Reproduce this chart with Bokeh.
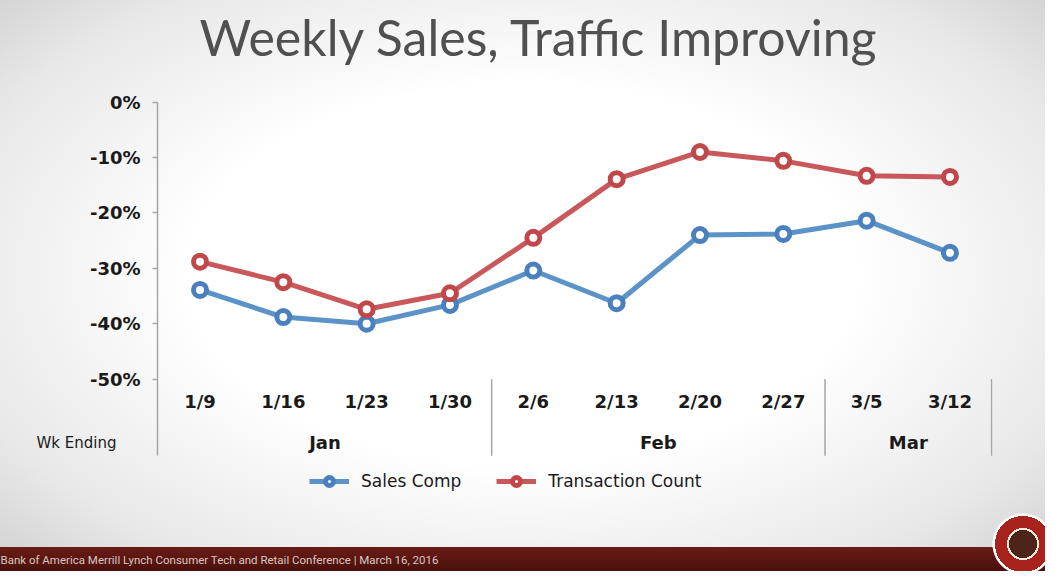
from itertools import accumulate

from bokeh.core.properties import value
from bokeh.embed import file_html
from bokeh.models import (ColumnDataSource, FactorRange, FixedTicker, Label,
                          Legend, LegendItem, LinearAxis, PrintfTickFormatter, Title)
from bokeh.plotting import figure
from bokeh.resources import INLINE

# data
months = ["Jan", "Jan", "Jan", "Jan", "Feb", "Feb", "Feb", "Feb", "Mar", "Mar"]
weeks = ["1/9", "1/16", "1/23", "1/30", "2/6", "2/13", "2/20", "2/27", "3/5", "3/12"]
sales_comp = [-33.9, -38.8, -40.0, -36.6, -30.4, -36.3, -24.0, -23.8, -21.4, -27.2]
transaction_count = [-28.8, -32.5, -37.4, -34.5, -24.5, -13.9, -9.0, -10.6, -13.3, -13.5]
y_ticks = [-50, -40, -30, -20, -10, 0]
month_names = ["Jan", "Feb", "Mar"]

BLUE = "#5b93c9"
BLUE_DARK = "#4a80be"
RED = "#c9585a"
RED_DARK = "#c0474a"
INK = "#1a1a1a"
FONT = "DejaVu Sans"

factors = list(zip(months, weeks))
source = ColumnDataSource(data=dict(x=factors, sales=sales_comp, trans=transaction_count))

axis_bottom = -63.85   # where the axis line and the month dividers stop
week_row, month_row = -54.0, -61.5

# the frame runs from the top of the page down to the footer band,
# so the title and legend can sit inside it
p = figure(width=1045, height=571,
           x_range=FactorRange(*factors, group_padding=0, range_padding=0.01,
                               range_padding_units="absolute"),
           y_range=(-80.04, 18.35), x_axis_location=None, title_location=None,
           output_backend="svg", toolbar_location=None,
           min_border_left=157, min_border_right=53,
           min_border_top=0, min_border_bottom=0)

p.xgrid.visible = False
p.ygrid.visible = False
p.outline_line_color = None
p.background_fill_alpha = 0
p.border_fill_alpha = 0
p.styles = {
    "background": (
        "radial-gradient(circle at 1023px 544px, #4d2419 0, #4d2419 14px, #f3e8da 14px, "
        "#f3e8da 16px, #a8231d 16px, #a8231d 28px, #ffffff 28px, #ffffff 30px, "
        "rgba(0,0,0,0) 31px), "
        "linear-gradient(to bottom, rgba(0,0,0,0) 547px, #6a1c15 547px, #4a100c 571px), "
        "radial-gradient(ellipse at 50% 48%, #ffffff 45%, #e8e8e8 80%, #d0d0d0 100%)"
    )
}

# footer sits in the band under the frame
p.add_layout(Title(text="Bank of America Merrill Lynch Consumer Tech and Retail Conference   |   March 16, 2016",
                   align="left", offset=-157, standoff=10, text_font="Roboto",
                   text_font_size="11.5px", text_font_style="normal",
                   text_color="#d8c6c2"), "below")

# y axis
p.yaxis.bounds = (axis_bottom, 0)
p.yaxis.ticker = FixedTicker(ticks=y_ticks)
p.yaxis.formatter = PrintfTickFormatter(format="%d%%")
p.yaxis.axis_line_color = "#a6a6a6"
p.yaxis.axis_line_width = 1.5
p.yaxis.major_tick_line_color = "#a6a6a6"
p.yaxis.major_tick_line_width = 1.5
p.yaxis.major_tick_out = 5
p.yaxis.major_tick_in = 0
p.yaxis.minor_tick_line_color = None
p.yaxis.major_label_standoff = 12
p.yaxis.major_label_text_font = FONT
p.yaxis.major_label_text_font_style = "bold"
p.yaxis.major_label_text_font_size = "18px"
p.yaxis.major_label_text_color = INK

# "Wk Ending" row label, as a bare second axis
wk_axis = LinearAxis(ticker=FixedTicker(ticks=[month_row]),
                     major_label_overrides={month_row: "Wk Ending"},
                     axis_line_color=None, major_tick_line_color=None,
                     minor_tick_line_color=None, major_tick_out=0, major_tick_in=0,
                     major_label_standoff=-30, major_label_text_font=FONT,
                     major_label_text_font_size="15px", major_label_text_color=INK)
p.add_layout(wk_axis, "left")

# series
l1 = p.line(x="x", y="sales", source=source, line_width=5, line_color=BLUE)
s1 = p.scatter(x="x", y="sales", source=source, size=13, fill_color="white",
               line_color=BLUE_DARK, line_width=5)
l2 = p.line(x="x", y="trans", source=source, line_width=5, line_color=RED)
s2 = p.scatter(x="x", y="trans", source=source, size=13, fill_color="white",
               line_color=RED_DARK, line_width=5)

# week and month labels under the chart
p.text(x=factors, y=[week_row] * len(weeks), text=weeks, text_font=value(FONT),
       text_font_style="bold", text_font_size="18px", text_color=INK,
       text_align="center", text_baseline="middle")
p.text(x=month_names, y=[month_row] * len(month_names), text=month_names,
       text_font=value(FONT), text_font_style="bold", text_font_size="18px",
       text_color=INK, text_align="center", text_baseline="middle")

counts = [months.count(m) for m in month_names]
bounds = list(accumulate(counts))
p.segment(x0=bounds, y0=[-50] * len(bounds), x1=bounds, y1=[axis_bottom] * len(bounds),
          line_color="#a6a6a6", line_width=1.5)

# title
p.add_layout(Label(x=42, y=509, x_units="screen", y_units="screen",
                   text="Weekly Sales, Traffic Improving", text_font="Lato",
                   text_font_size="50px", text_color="#505050",
                   text_align="left", text_baseline="alphabetic"))

legend = Legend(items=[LegendItem(label="Sales Comp", renderers=[l1, s1]),
                       LegendItem(label="Transaction Count", renderers=[l2, s2])],
                orientation="horizontal", location=(152, 54),
                label_text_font=FONT, label_text_font_size="17px",
                label_text_color=INK, glyph_width=40, glyph_height=20,
                label_standoff=12, spacing=35, padding=4, margin=0,
                border_line_color=None, background_fill_alpha=0)
p.add_layout(legend)

open("out.html", "w").write(file_html(p, INLINE))
